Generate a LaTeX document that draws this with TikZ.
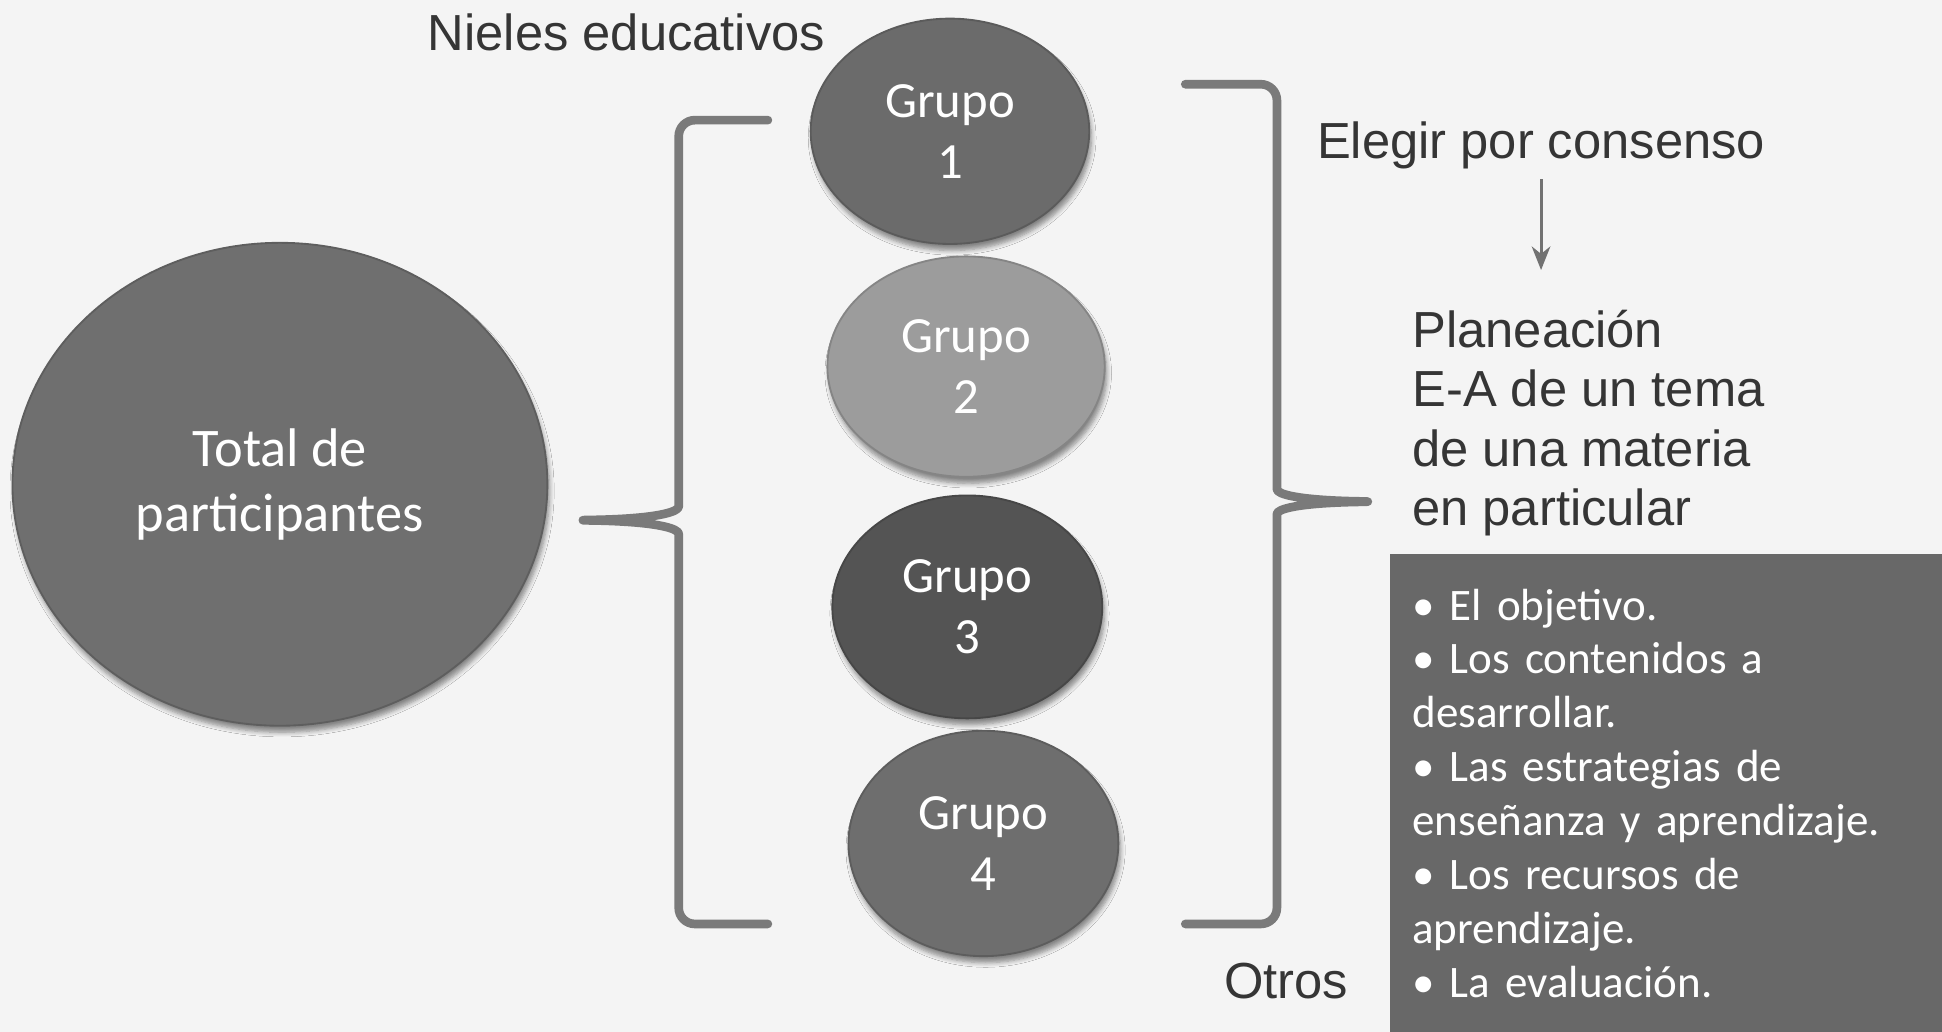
\documentclass[tikz,border=0pt]{standalone}
\usepackage{fontspec}
\setmainfont{Liberation Sans}
\newfontfamily\calib{Carlito}
\usetikzlibrary{shapes.geometric,arrows.meta,shadows.blur}
\definecolor{bg}{HTML}{F4F4F4}
\definecolor{txt}{HTML}{353535}
\definecolor{brc}{HTML}{7A7A7A}
\definecolor{arrc}{HTML}{727272}
\definecolor{gA}{HTML}{6B6B6B}
\definecolor{gB}{HTML}{9C9C9C}
\definecolor{gC}{HTML}{545454}
\definecolor{gD}{HTML}{6E6E6E}
\definecolor{gT}{HTML}{6F6F6F}
\definecolor{boxc}{HTML}{686868}
\begin{document}
\begin{tikzpicture}[x=0.02cm,y=-0.02cm,
  blob/.style={ellipse, inner sep=0pt, fill=#1, draw=#1!85!black, line width=0.03cm,
    text=white, align=center, font=\calib\fontsize{23.3}{27.9}\selectfont,
    blur shadow={shadow xshift=1pt, shadow yshift=-3pt, shadow blur steps=6, shadow opacity=45}},
  bracepath/.style={draw=brc, line width=0.14cm, line join=round, line cap=round, rounded corners=0.26cm},
  lbl/.style={text=txt, inner sep=0pt, font=\fontsize{23.3}{27.3}\selectfont},
  arr/.style={draw=arrc, line width=0.05cm, -{Stealth[length=0.38cm,width=0.3cm,inset=0.12cm]},
    shorten <=0.16cm, shorten >=0.64cm},
  listbox/.style={anchor=north west, fill=boxc, inner xsep=0.36cm, inner ysep=0pt,
    minimum width=8.92cm, minimum height=7.72cm, text width=8.2cm, align=left,
    text=white, font=\calib\fontsize{20.7}{24.75}\selectfont}
]
\fill[bg] (0,0) rectangle (1568,833);
\useasboundingbox (0,0) rectangle (1568,833);

% braces
\draw[bracepath] (620,97) -- (548,97) -- (548,396)
  .. controls (548,413) and (532,419) .. (463,420)
  .. controls (532,421) and (548,427) .. (548,444) -- (548,746) -- (620,746);
\draw[bracepath] (957,68) -- (1031,68) -- (1031,382)
  .. controls (1031,399) and (1048,404) .. (1112,405)
  .. controls (1048,406) and (1031,411) .. (1031,428) -- (1031,746) -- (957,746);

% ellipses
\node[blob=gT, minimum width=8.64cm, minimum height=7.8cm,
  font=\calib\fontsize{25}{30}\selectfont] (total) at (226,391) {Total de\\participantes};
\node[blob=gA, minimum width=4.5cm, minimum height=3.64cm] (g1) at (767,106) {Grupo\\1};
\node[blob=gB, minimum width=4.48cm, minimum height=3.56cm] (g2) at (780,296) {Grupo\\2};
\node[blob=gC, minimum width=4.36cm, minimum height=3.6cm] (g3) at (781,490) {Grupo\\3};
\node[blob=gD, minimum width=4.36cm, minimum height=3.64cm] (g4) at (794,681) {Grupo\\4};

% texts
\node[lbl, anchor=base west] (niveles) at (345,41) {Nieles educativos};
\node[lbl, anchor=base west] (elegir) at (1063,128) {Elegir por consenso};
\node[lbl, anchor=north west, align=left] (plan) at (1140,250)
  {Planeación\\E-A de un tema\\de una materia\\en particular};
\node[lbl, anchor=base west] (otros) at (988,806) {Otros};

\draw[arr] (elegir.south) -- (elegir.south |- plan.north);

\node[listbox] (lista) at (1122,447)
  {• El objetivo.\\
   • Los contenidos a\\
   desarrollar.\\
   • Las estrategias de\\
   enseñanza y aprendizaje.\\
   • Los recursos de\\
   aprendizaje.\\
   • La evaluación.};
\end{tikzpicture}
\end{document}
